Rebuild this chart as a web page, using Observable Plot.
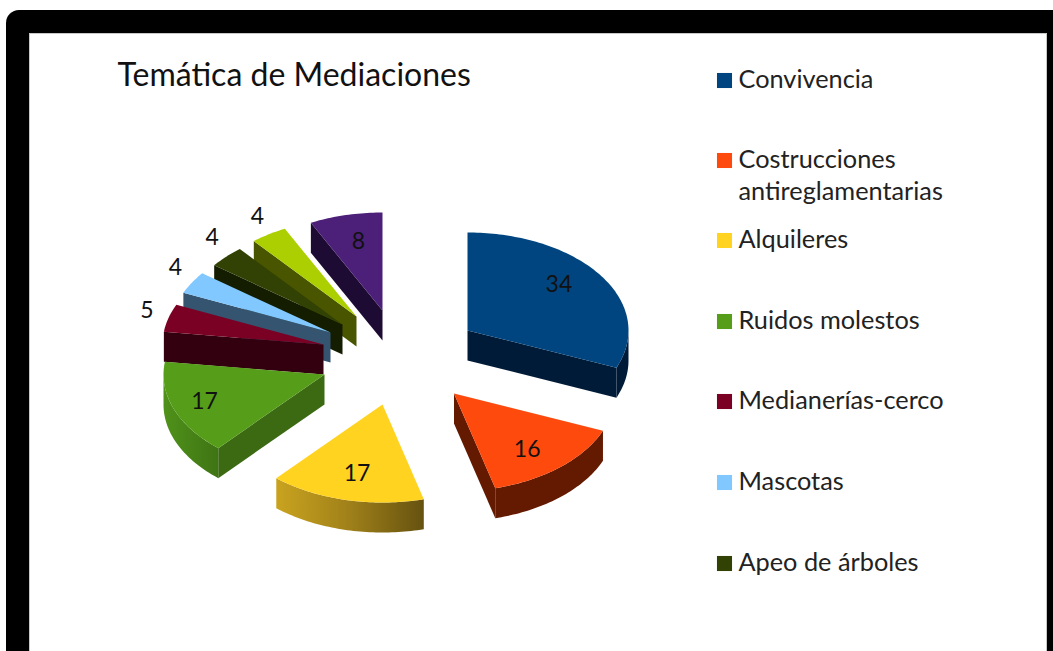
<!DOCTYPE html>
<html>
<head>
<meta charset="utf-8">
<script src="https://cdn.jsdelivr.net/npm/d3@7"></script>
<script src="https://cdn.jsdelivr.net/npm/@observablehq/plot@0.6"></script>
<style>
  html, body { margin: 0; padding: 0; background: #fff; overflow: hidden; }
  #stage { position: relative; width: 1053px; height: 651px; overflow: hidden; }
  #outer { position: absolute; left: 6px; top: 10px; right: 0; bottom: -30px; background: #000; border-top-left-radius: 13px; }
  #inner { position: absolute; left: 23px; top: 23px; width: 1016px; bottom: -10px; background: #fff; border: 1px solid #c8c8c8; }
  #chart { position: absolute; left: 0; top: 0; }
</style>
</head>
<body>
<div id="stage"><div id="outer"><div id="inner"></div></div><div id="chart"></div></div>
<script>
// Chart values
const chartTitle = "Temática de Mediaciones";
const sliceValues = [34, 16, 17, 17, 5, 4, 4, 4, 8];
const legendLabels = ["Convivencia", "Costrucciones\nantireglamentarias", "Alquileres", "Ruidos molestos", "Medianerías-cerco", "Mascotas", "Apeo de árboles"];

// Styles
const topColors = ["#00457f", "#ff4a0d", "#ffd31f", "#569e19", "#7a0024", "#80c8ff", "#324204", "#abcf00", "#4c2078"];
const wallColors = ["#001b38", "#641a00", "#a5851a", "#3c6a12", "#33000f", "#355470", "#141d00", "#4a5500", "#1e0b33"];
const arcFills = ["#001b38", "#641a00", "url(#yellowArc)", "url(#greenArc)", "#33000f", "#355470", "#141d00", "#4a5500", "#1e0b33"];

// Layout of the exploded 3D pie: where each slice's apex lands, ellipse radii, depth
const apexX = [467, 453.5, 382, 324, 323, 330, 342, 356, 382];
const apexY = [330, 393, 404, 374, 344, 332, 324, 316, 310];
const rx = 161, ry = 98, depth = 30;
// Label placement along each slice's bisector, as fractions of the radii
const labelFx = [0.684, 0.689, 0.69, 0.796, 1.14, 1.118, 1.12, 1.129, 0.652];
const labelFy = [0.836, 0.763, 0.72, 0.78, 1.28, 1.30, 1.283, 1.22, 0.723];

const total = d3.sum(sliceValues);
const cum = d3.cumsum(sliceValues);
const slices = sliceValues.map((v, i) => ({
  i, value: v,
  a0: (i ? cum[i - 1] : 0) / total * 2 * Math.PI,
  a1: cum[i] / total * 2 * Math.PI,
  ax: apexX[i], ay: apexY[i]
}));

const pt = (s, a, dz = 0) => ({ x: s.ax + rx * Math.sin(a), y: s.ay - ry * Math.cos(a) + dz });
const arc = (a0, a1) => {
  const n = Math.max(2, Math.ceil((a1 - a0) / 0.02));
  return d3.range(n + 1).map(k => a0 + (a1 - a0) * k / n);
};

// Painter's order: back slices first; front slices on top.
const drawOrder = [8, 7, 6, 5, 4, 3, 2, 1, 0];
const faces = [];
let faceId = 0;
const pushFace = (points, fill) => { const id = faceId++; points.forEach(p => faces.push({ ...p, id, fill })); };

for (const idx of drawOrder) {
  const s = slices[idx];
  const apex = { x: s.ax, y: s.ay }, apexLow = { x: s.ax, y: s.ay + depth };
  // Radial walls that face the viewer
  if (Math.sin(s.a0) < 0) pushFace([apex, pt(s, s.a0), pt(s, s.a0, depth), apexLow], wallColors[idx]);
  if (Math.sin(s.a1) > 0) pushFace([apex, pt(s, s.a1), pt(s, s.a1, depth), apexLow], wallColors[idx]);
  // Outer rim where it faces the viewer
  const lo = Math.max(s.a0, Math.PI / 2), hi = Math.min(s.a1, 3 * Math.PI / 2);
  if (lo < hi) {
    const as = arc(lo, hi);
    pushFace([...as.map(a => pt(s, a)), ...as.slice().reverse().map(a => pt(s, a, depth))], arcFills[idx]);
  }
  // Top face
  pushFace([apex, ...arc(s.a0, s.a1).map(a => pt(s, a))], topColors[idx]);
}

const sliceLabels = slices.map(s => {
  const m = (s.a0 + s.a1) / 2;
  return { x: s.ax + rx * Math.sin(m) * labelFx[s.i], y: s.ay - ry * Math.cos(m) * labelFy[s.i], text: String(s.value) };
});

const legendX = 724, legendTextX = 738;
const legendRowY = [80, 160, 240, 321, 401, 482, 563];
const legendRows = legendLabels.map((label, i) => {
  const lines = label.split("\n").length;
  return { label, color: topColors[i], y: legendRowY[i], textY: legendRowY[i] - 3 + (lines - 1) * 16 };
});

const fontFamily = "Lato, 'Open Sans', sans-serif";
const plot = Plot.plot({
  width: 1053, height: 651,
  marginTop: 0, marginRight: 0, marginBottom: 0, marginLeft: 0,
  x: { domain: [0, 1053], range: [0, 1053], axis: null },
  y: { domain: [0, 651], range: [0, 651], axis: null },
  color: { type: "identity" },
  style: { background: "transparent", fontFamily },
  marks: [
    Plot.line(faces, { x: "x", y: "y", z: "id", fill: "fill", stroke: "none", curve: "linear" }),
    Plot.text(sliceLabels, { x: "x", y: "y", text: "text", fontSize: 23, fill: "#111", lineAnchor: "middle", textAnchor: "middle" }),
    Plot.dot(legendRows, { x: () => legendX, y: "y", symbol: "square", r: 8.5, fill: "color", stroke: "none" }),
    Plot.text(legendRows, { x: () => legendTextX, y: "textY", text: "label", fontSize: 25.3, lineHeight: 32 / 25.3, fill: "#222", textAnchor: "start", lineAnchor: "middle" }),
    Plot.text([chartTitle], { x: () => 117, y: () => 75, text: d => d, fontSize: 32, fill: "#111", textAnchor: "start", lineAnchor: "middle" })
  ]
});

// Gradients for the shaded rims
const defs = d3.select(plot).insert("defs", ":first-child");
const grad = (id, stops) => {
  const g = defs.append("linearGradient").attr("id", id);
  stops.forEach(([o, c]) => g.append("stop").attr("offset", o).attr("stop-color", c));
};
grad("yellowArc", [[0, "#c9a31f"], [0.45, "#a4841a"], [1, "#665210"]]);
grad("greenArc", [[0, "#4f921a"], [1, "#3f7414"]]);

document.getElementById("chart").append(plot);
</script>
</body>
</html>
